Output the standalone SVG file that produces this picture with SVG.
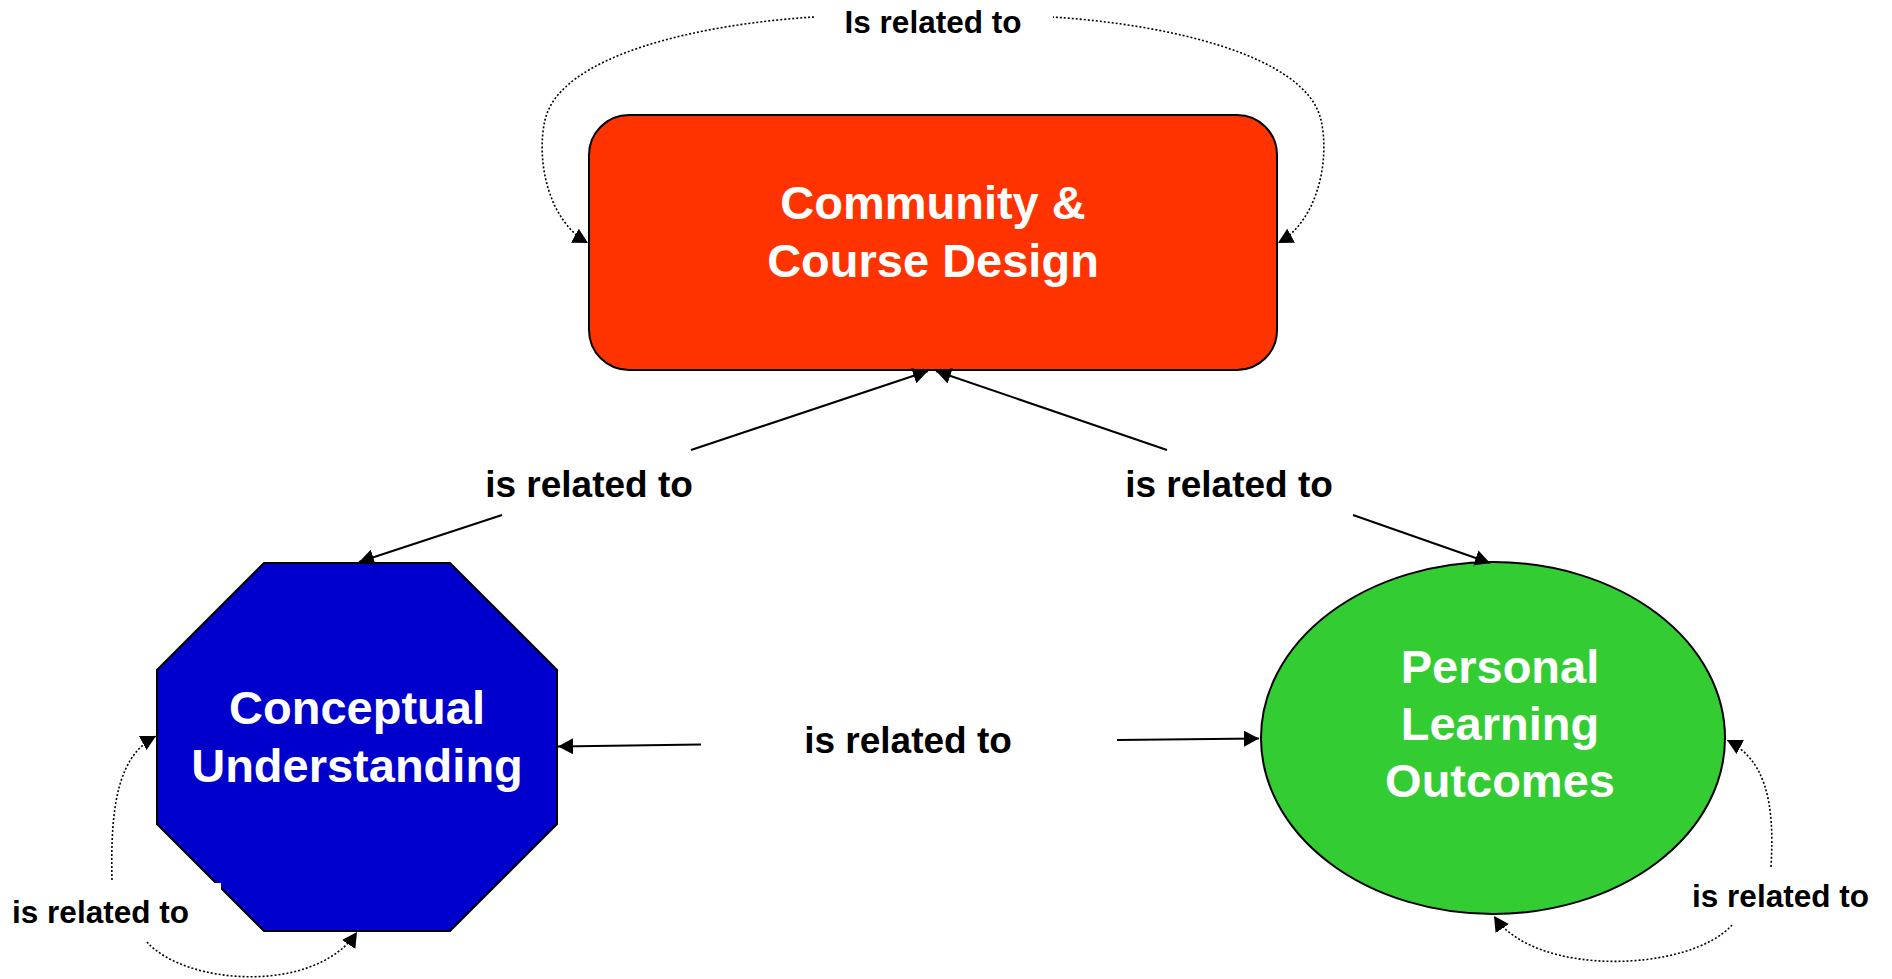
<svg xmlns="http://www.w3.org/2000/svg" width="1892" height="979" viewBox="0 0 1892 979">
  <style>
    .node-shape { stroke: #000; stroke-width: 2; }
    .node-text { font-family: "Liberation Sans", Arial, sans-serif; font-weight: bold; font-size: 47px; fill: #fff; text-anchor: middle; }
    .link-text { font-family: "Liberation Sans", Arial, sans-serif; font-weight: bold; fill: #000; text-anchor: middle; }
    .link-text.large { font-size: 37px; }
    .link-text.small { font-size: 31.5px; }
    .link-bg { fill: #fff; }
    .solid { fill: none; stroke: #000; stroke-width: 2; marker-end: url(#arrow); }
    .dotted { fill: none; stroke: #000; stroke-width: 1.6; stroke-dasharray: 2 2; marker-end: url(#arrow); }
  </style>
  <defs>
    <marker id="arrow" viewBox="0 0 15 16" refX="15" refY="8" markerWidth="15" markerHeight="16" markerUnits="userSpaceOnUse" orient="auto">
      <path d="M0,0 L15,8 L0,16 z" fill="#000"/>
    </marker>
  </defs>

  <rect width="1892" height="979" fill="#fff"/>

  <!-- concepts -->
  <g id="community-course-design">
    <rect class="node-shape" x="589" y="115" width="688" height="255" rx="40" ry="40" fill="#FF3300"/>
    <text class="node-text" x="933" y="219">Community &amp;</text>
    <text class="node-text" x="933" y="277">Course Design</text>
  </g>

  <g id="conceptual-understanding">
    <polygon class="node-shape" points="264,563 450,563 557,670 557,824 450,931 264,931 157,824 157,670" fill="#0000CC"/>
    <text class="node-text" x="357" y="724">Conceptual</text>
    <text class="node-text" x="357" y="782">Understanding</text>
  </g>

  <g id="personal-learning-outcomes">
    <ellipse class="node-shape" cx="1493" cy="738" rx="232" ry="176" fill="#33CC33"/>
    <text class="node-text" x="1500" y="683">Personal</text>
    <text class="node-text" x="1500" y="740">Learning</text>
    <text class="node-text" x="1500" y="797">Outcomes</text>
  </g>

  <!-- links: each runs concept -> linking phrase -> concept -->
  <g id="connectors">
    <!-- Community & Course Design <-> Conceptual Understanding -->
    <path class="solid" d="M691,450 L928,371"/>
    <path class="solid" d="M502,515 L359,562"/>
    <!-- Community & Course Design <-> Personal Learning Outcomes -->
    <path class="solid" d="M1167,450 L936,371"/>
    <path class="solid" d="M1353,515 L1490,563"/>
    <!-- Conceptual Understanding <-> Personal Learning Outcomes -->
    <path class="solid" d="M701,744.5 L558,746.5"/>
    <path class="solid" d="M1117,740 L1259,738.5"/>
    <!-- self link on Community & Course Design -->
    <path class="dotted" d="M814,17 C700,24 560,55 545,120 C536,159 547.5,220.5 588,243"/>
    <path class="dotted" d="M1052,17 C1166,24 1306,55 1321,120 C1330,159 1318.5,220.5 1278,243"/>
    <!-- self link on Conceptual Understanding -->
    <path class="dotted" d="M112,880 C110,800 120,755 156,736"/>
    <path class="dotted" d="M147,942 C185,985 315,995 357,932"/>
    <!-- self link on Personal Learning Outcomes -->
    <path class="dotted" d="M1771,867 C1775,800 1765,760 1727,740"/>
    <path class="dotted" d="M1732,925 C1690,972 1535,978 1494,916"/>
  </g>

  <!-- linking phrases -->
  <g id="label-top">
    <rect class="link-bg" x="814" y="0" width="239" height="45"/>
    <text class="link-text small" x="933" y="33">Is related to</text>
  </g>
  <g id="label-left">
    <rect class="link-bg" x="453" y="451" width="272" height="63"/>
    <text class="link-text large" x="589" y="497">is related to</text>
  </g>
  <g id="label-right">
    <rect class="link-bg" x="1094" y="451" width="270" height="63"/>
    <text class="link-text large" x="1229" y="497">is related to</text>
  </g>
  <g id="label-bottom">
    <rect class="link-bg" x="702" y="716" width="414" height="54"/>
    <text class="link-text large" x="908" y="753">is related to</text>
  </g>
  <g id="label-bottom-left">
    <rect class="link-bg" x="0" y="883" width="221" height="58"/>
    <text class="link-text small" x="100.5" y="923">is related to</text>
  </g>
  <g id="label-bottom-right">
    <rect class="link-bg" x="1660" y="868" width="232" height="56"/>
    <text class="link-text small" x="1780.5" y="907">is related to</text>
  </g>
</svg>
